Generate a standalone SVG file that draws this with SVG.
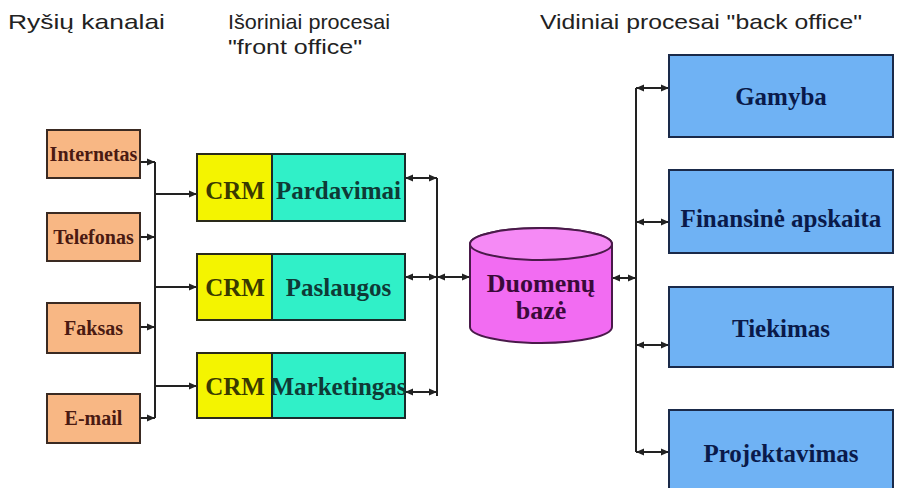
<svg xmlns="http://www.w3.org/2000/svg" width="898" height="488" viewBox="0 0 898 488">
<defs>
<style>
.hdr{font-family:'Liberation Sans',Arial,sans-serif;font-size:21px;fill:#222}
.nt{font-family:'Liberation Serif','Times New Roman','DejaVu Serif',serif;font-weight:700;text-anchor:middle}
.ch rect{fill:#F8B784;stroke:#3a2a22;stroke-width:2}
.ch text{font-size:20px;fill:#4a1a12}
.crm{fill:#F4F400;stroke:#2a2a1a;stroke-width:2}
.fo{fill:#30F0C8;stroke:#1a2a2a;stroke-width:2}
.crmt{font-size:25px;fill:#3a3a00}
.fot{font-size:25px;fill:#0f3a36}
.bo rect{fill:#6FB2F4;stroke:#1a2a4a;stroke-width:2}
.bo text{font-size:25px;fill:#0a1a4a}
.ln{stroke:#222;stroke-width:2;fill:none}
</style>
<marker id="ah" viewBox="0 0 8 8" refX="8" refY="4" markerWidth="8" markerHeight="8" markerUnits="userSpaceOnUse" orient="auto-start-reverse">
<path d="M0,0.5 L8,4 L0,7.5 Z" fill="#222"/>
</marker>
</defs>
<rect width="898" height="488" fill="#ffffff"/>

<g id="headers">
<text class="hdr" x="8" y="29" textLength="157" lengthAdjust="spacingAndGlyphs">Ryšių kanalai</text>
<text class="hdr" x="228" y="29" textLength="162" lengthAdjust="spacingAndGlyphs">Išoriniai procesai</text>
<text class="hdr" x="228" y="54" textLength="134" lengthAdjust="spacingAndGlyphs">"front office"</text>
<text class="hdr" x="540" y="29" textLength="322" lengthAdjust="spacingAndGlyphs">Vidiniai procesai "back office"</text>
</g>

<g id="connectors">
<line class="ln" x1="155" y1="162" x2="155" y2="418"/>
<line class="ln" x1="140" y1="162" x2="155" y2="162" marker-end="url(#ah)"/>
<line class="ln" x1="140" y1="237" x2="155" y2="237" marker-end="url(#ah)"/>
<line class="ln" x1="140" y1="327" x2="155" y2="327" marker-end="url(#ah)"/>
<line class="ln" x1="140" y1="418" x2="155" y2="418" marker-end="url(#ah)"/>
<line class="ln" x1="155" y1="194" x2="197" y2="194" marker-end="url(#ah)"/>
<line class="ln" x1="155" y1="287" x2="197" y2="287" marker-end="url(#ah)"/>
<line class="ln" x1="155" y1="386" x2="197" y2="386" marker-end="url(#ah)"/>
<line class="ln" x1="437" y1="178" x2="437" y2="396"/>
<line class="ln" x1="405" y1="178" x2="437" y2="178" marker-start="url(#ah)" marker-end="url(#ah)"/>
<line class="ln" x1="405" y1="277" x2="437" y2="277" marker-start="url(#ah)" marker-end="url(#ah)"/>
<line class="ln" x1="405" y1="392" x2="437" y2="392" marker-start="url(#ah)" marker-end="url(#ah)"/>
<line class="ln" x1="437" y1="277" x2="470" y2="277" marker-start="url(#ah)" marker-end="url(#ah)"/>
<line class="ln" x1="612" y1="278" x2="636" y2="278" marker-start="url(#ah)" marker-end="url(#ah)"/>
<line class="ln" x1="636" y1="88" x2="636" y2="452"/>
<line class="ln" x1="636" y1="88" x2="669" y2="88" marker-start="url(#ah)" marker-end="url(#ah)"/>
<line class="ln" x1="636" y1="222" x2="669" y2="222" marker-start="url(#ah)" marker-end="url(#ah)"/>
<line class="ln" x1="636" y1="345" x2="669" y2="345" marker-start="url(#ah)" marker-end="url(#ah)"/>
<line class="ln" x1="636" y1="452" x2="669" y2="452" marker-start="url(#ah)" marker-end="url(#ah)"/>
</g>

<g id="internetas" class="ch">
<rect x="47" y="130" width="93" height="48"/>
<text class="nt" x="93.5" y="161" font-family="Liberation Serif, serif">Internetas</text>
</g>
<g id="telefonas" class="ch">
<rect x="47" y="213" width="93" height="48"/>
<text class="nt" x="93.5" y="244" font-family="Liberation Serif, serif">Telefonas</text>
</g>
<g id="faksas" class="ch">
<rect x="47" y="303" width="93" height="50"/>
<text class="nt" x="93.5" y="335" font-family="Liberation Serif, serif">Faksas</text>
</g>
<g id="email" class="ch">
<rect x="47" y="394" width="93" height="49"/>
<text class="nt" x="93.5" y="425" font-family="Liberation Serif, serif">E-mail</text>
</g>

<g id="crm-pardavimai">
<rect class="crm" x="197" y="154" width="75" height="67"/>
<rect class="fo" x="272" y="154" width="133" height="67"/>
<text class="nt crmt" x="235" y="199">CRM</text>
<text class="nt fot" x="338.5" y="199">Pardavimai</text>
</g>
<g id="crm-paslaugos">
<rect class="crm" x="197" y="254" width="75" height="66"/>
<rect class="fo" x="272" y="254" width="133" height="66"/>
<text class="nt crmt" x="235" y="296">CRM</text>
<text class="nt fot" x="338.5" y="296">Paslaugos</text>
</g>
<g id="crm-marketingas">
<rect class="crm" x="197" y="353" width="75" height="65"/>
<rect class="fo" x="272" y="353" width="133" height="65"/>
<text class="nt crmt" x="235" y="395">CRM</text>
<text class="nt fot" x="338.5" y="395">Marketingas</text>
</g>

<g id="duomenu-baze">
<path d="M470,244 L470,327 A71,16 0 0 0 612,327 L612,244 A71,16 0 0 0 470,244 Z" fill="#F26CF2" stroke="#4a1a4a" stroke-width="2"/>
<ellipse cx="541" cy="244" rx="71" ry="16" fill="#F58AF5" stroke="#4a1a4a" stroke-width="2"/>
<text class="nt" x="541" y="292" font-size="26" fill="#3a0a3a">Duomenų</text>
<text class="nt" x="541" y="319" font-size="26" fill="#3a0a3a">bazė</text>
</g>

<g id="gamyba" class="bo">
<rect x="669" y="55" width="224" height="82"/>
<text class="nt" x="781" y="105">Gamyba</text>
</g>
<g id="finansine" class="bo">
<rect x="669" y="170" width="224" height="83"/>
<text class="nt" x="781" y="227">Finansinė apskaita</text>
</g>
<g id="tiekimas" class="bo">
<rect x="669" y="287" width="224" height="80"/>
<text class="nt" x="781" y="337">Tiekimas</text>
</g>
<g id="projektavimas" class="bo">
<rect x="669" y="410" width="224" height="80"/>
<text class="nt" x="781" y="462">Projektavimas</text>
</g>
</svg>
